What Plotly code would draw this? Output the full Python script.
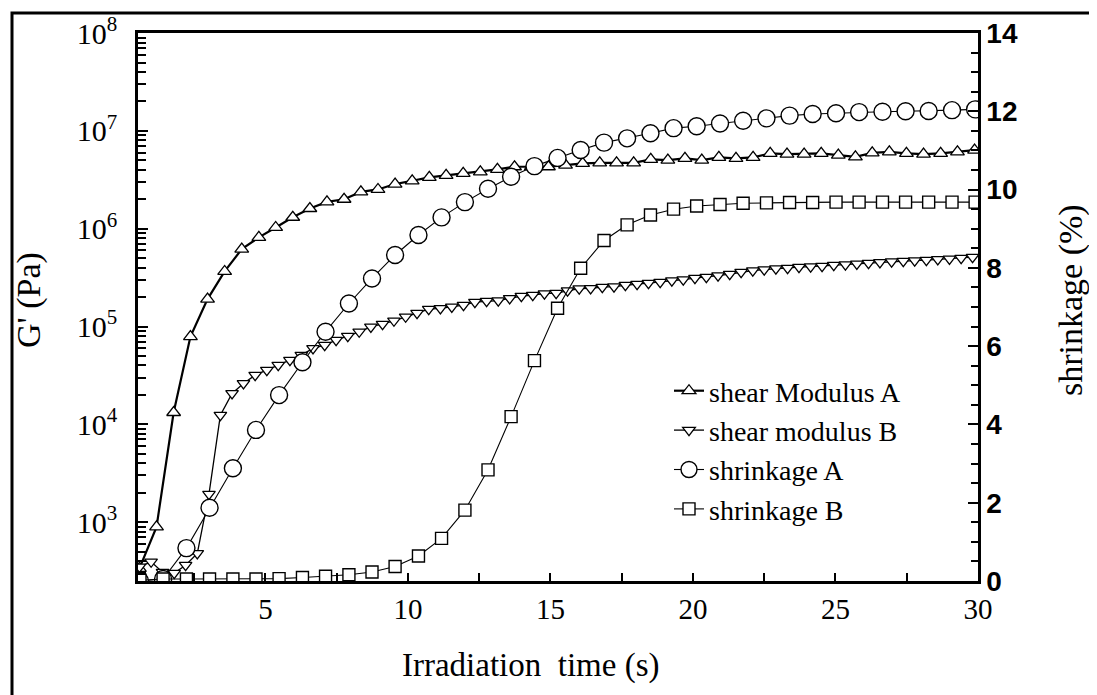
import plotly.graph_objects as go

# ---------------- data ----------------
time_shear_A = [0.58, 1.18, 1.78, 2.37, 2.97, 3.57, 4.17, 4.77, 5.36, 5.96,
                6.56, 7.16, 7.76, 8.35, 8.95, 9.55, 10.15, 10.75, 11.34, 11.94,
                12.54, 13.14, 13.74, 14.33, 14.93, 15.53, 16.13, 16.73, 17.32, 17.92,
                18.52, 19.12, 19.72, 20.31, 20.91, 21.51, 22.11, 22.71, 23.30, 23.90,
                24.50, 25.10, 25.70, 26.29, 26.89, 27.49, 28.09, 28.69, 29.28, 29.88]
G_shear_A = [337, 895, 13200, 78900, 190500, 365600, 618000, 815000, 1.03e6, 1.31e6,
             1.61e6, 1.88e6, 2.0e6, 2.38e6, 2.52e6, 2.86e6, 3.09e6, 3.35e6, 3.51e6, 3.68e6,
             3.82e6, 4.04e6, 4.30e6, 4.32e6, 4.30e6, 4.47e6, 4.66e6, 4.72e6, 4.72e6, 4.72e6,
             5.12e6, 5.02e6, 5.24e6, 5.02e6, 5.36e6, 5.24e6, 5.36e6, 5.89e6, 5.79e6, 5.79e6,
             5.89e6, 5.66e6, 5.43e6, 5.97e6, 6.11e6, 5.89e6, 5.79e6, 5.89e6, 6.11e6, 6.37e6]

time_shear_B = [0.58, 0.99, 1.39, 1.80, 2.20, 2.61, 3.02, 3.42, 3.83, 4.23,
                4.64, 5.05, 5.45, 5.86, 6.26, 6.67, 7.08, 7.48, 7.89, 8.29,
                8.70, 9.11, 9.51, 9.92, 10.32, 10.73, 11.14, 11.54, 11.95, 12.35,
                12.76, 13.17, 13.57, 13.98, 14.38, 14.79, 15.20, 15.60, 16.01, 16.41,
                16.82, 17.23, 17.63, 18.04, 18.44, 18.85, 19.26, 19.66, 20.07, 20.47,
                20.88, 21.29, 21.69, 22.10, 22.50, 22.91, 23.32, 23.72, 24.13, 24.53,
                24.94, 25.35, 25.75, 26.16, 26.56, 26.97, 27.38, 27.78, 28.19, 28.59,
                29.00, 29.41, 29.81]
G_shear_B = [349, 393, 308, 301, 363, 479, 1930, 12400, 20700, 26200,
             31800, 35800, 40300, 45300, 51000, 59700, 64500, 72600, 79800, 88300,
             99300, 105900, 114400, 125700, 137100, 150600, 153000, 158900, 165500, 177500,
             181800, 184000, 193800, 204500, 209500, 216900, 219800, 232900, 243900, 245200,
             252900, 255900, 265100, 271500, 277900, 284400, 294600, 301700, 312700, 320000,
             331500, 343500, 359800, 373100, 381800, 391100, 395600, 405000, 409600, 414600,
             424600, 429400, 436800, 444800, 453400, 461000, 466800, 472300, 477600, 485400,
             492300, 500000, 512000]

time_shrink = [0.60, 1.41, 2.23, 3.04, 3.86, 4.67, 5.48, 6.30, 7.11, 7.93,
               8.74, 9.55, 10.37, 11.18, 12.00, 12.81, 13.62, 14.44, 15.25, 16.06,
               16.88, 17.69, 18.51, 19.32, 20.13, 20.95, 21.76, 22.58, 23.39, 24.20,
               25.02, 25.83, 26.65, 27.46, 28.27, 29.09, 29.90]
shrink_A = [0.0, 0.05, 0.84, 1.87, 2.88, 3.86, 4.75, 5.59, 6.37, 7.09,
            7.73, 8.33, 8.84, 9.29, 9.68, 10.02, 10.33, 10.60, 10.81, 11.01,
            11.20, 11.31, 11.44, 11.57, 11.62, 11.69, 11.76, 11.82, 11.89, 11.93,
            11.95, 11.98, 11.99, 12.00, 12.01, 12.03, 12.05]
shrink_B = [0.02, 0.05, 0.05, 0.05, 0.05, 0.05, 0.06, 0.09, 0.12, 0.16,
            0.23, 0.37, 0.64, 1.09, 1.81, 2.84, 4.20, 5.63, 6.97, 7.99,
            8.70, 9.10, 9.35, 9.50, 9.58, 9.62, 9.65, 9.66, 9.67, 9.67,
            9.68, 9.68, 9.68, 9.68, 9.68, 9.68, 9.68]

series_names = ["shear Modulus A", "shear modulus B", "shrinkage A", "shrinkage B"]
x_tick_vals = [5, 10, 15, 20, 25, 30]
y_tick_vals = [1e3, 1e4, 1e5, 1e6, 1e7, 1e8]
y_tick_text = ["10<sup>3</sup>", "10<sup>4</sup>", "10<sup>5</sup>",
               "10<sup>6</sup>", "10<sup>7</sup>", "10<sup>8</sup>"]
y2_tick_vals = [0, 2, 4, 6, 8, 10, 12, 14]

SERIF = "Liberation Serif"
SANS = "Liberation Sans"

fig = go.Figure()

fig.add_trace(go.Scatter(
    x=time_shear_A, y=G_shear_A, name=series_names[0], mode="lines+markers",
    line=dict(color="black", width=2.2),
    marker=dict(symbol="triangle-up", size=12, color="white",
                line=dict(color="black", width=1.3))))
fig.add_trace(go.Scatter(
    x=time_shear_B, y=G_shear_B, name=series_names[1], mode="lines+markers",
    line=dict(color="black", width=1.3),
    marker=dict(symbol="triangle-down", size=11, color="white",
                line=dict(color="black", width=1.3))))
fig.add_trace(go.Scatter(
    x=time_shrink, y=shrink_A, name=series_names[2], mode="lines+markers", yaxis="y2",
    line=dict(color="black", width=1.1),
    marker=dict(symbol="circle", size=17, color="white",
                line=dict(color="black", width=1.4))))
fig.add_trace(go.Scatter(
    x=time_shrink, y=shrink_B, name=series_names[3], mode="lines+markers", yaxis="y2",
    line=dict(color="black", width=1.1),
    marker=dict(symbol="square", size=12, color="white",
                line=dict(color="black", width=1.4))))

# The page body has an 8px margin, so the figure is drawn 8px smaller and
# positions below are given in page pixels.
OFF = 8
W, H = 1097 - OFF, 695 - OFF
PL, PR, PT, PB = 138, 978, 33, 581          # plot box in page pixels
L, T = PL - OFF, PT - OFF
R, B = W - (PR - OFF), H - (PB - OFF)
pw, ph = PR - PL, PB - PT

def px_x(px):
    return (px - PL) / pw

def px_y(py):
    return (PB - py) / ph

fig.update_layout(
    width=W, height=H,
    margin=dict(l=L, r=R, t=T, b=B, pad=0, autoexpand=False),
    paper_bgcolor="white", plot_bgcolor="white",
    font=dict(family=SERIF, color="black", size=28),
    showlegend=True,
    legend=dict(x=px_x(669), y=px_y(366), xanchor="left", yanchor="top",
                bgcolor="rgba(0,0,0,0)", borderwidth=0,
                font=dict(family=SERIF, size=28, color="black"),
                tracegroupgap=0),
    xaxis=dict(range=[0.53, 30.001], tickvals=x_tick_vals, ticks="inside", ticklen=8,
               tickwidth=2, tickcolor="black", automargin=False,
               ticklabeloverflow="allow",
               minor=dict(ticks="inside", dtick=2.5, tick0=0, ticklen=8, tickwidth=2,
                          tickcolor="black", showgrid=False),
               showline=True, linewidth=2.5, linecolor="black", mirror=True,
               showgrid=False, zeroline=False,
               tickfont=dict(family=SERIF, size=29, color="black")),
    yaxis=dict(type="log", range=[2.398, 8.001], tickvals=y_tick_vals,
               ticktext=y_tick_text,
               ticks="inside", ticklen=10, tickwidth=2,
               tickcolor="black", automargin=False, ticklabeloverflow="allow",
               minor=dict(ticks="inside", ticklen=8, tickwidth=2, tickcolor="black",
                          dtick="D1", showgrid=False),
               showline=True, linewidth=2.5, linecolor="black", mirror=False,
               showgrid=False, zeroline=False, ticklabelstandoff=12,
               tickfont=dict(family=SERIF, size=30, color="black")),
    yaxis2=dict(overlaying="y", side="right", range=[0, 14.001], tickvals=y2_tick_vals,
                ticks="inside", ticklen=10, tickwidth=2, tickcolor="black",
                automargin=False, ticklabeloverflow="allow",
                minor=dict(ticks="inside", dtick=0.5, tick0=0, ticklen=7, tickwidth=2,
                           tickcolor="black", showgrid=False),
                showline=True, linewidth=2.5, linecolor="black",
                showgrid=False, zeroline=False, ticklabelstandoff=0,
                tickfont=dict(family=SANS, size=28, color="black", weight="bold")),
    annotations=[
        dict(text="Irradiation&nbsp; time (s)", xref="paper", yref="paper",
             x=px_x(531), y=px_y(665), xanchor="center", yanchor="middle",
             showarrow=False, font=dict(family=SERIF, size=33, color="black")),
        dict(text="G' (Pa)", xref="paper", yref="paper",
             x=px_x(29), y=px_y(300), xanchor="center", yanchor="middle",
             textangle=-90, showarrow=False,
             font=dict(family=SERIF, size=34, color="black")),
        dict(text="shrinkage (%)", xref="paper", yref="paper",
             x=px_x(1071), y=px_y(300), xanchor="center", yanchor="middle",
             textangle=-90, showarrow=False,
             font=dict(family=SERIF, size=34, color="black")),
    ],
    shapes=[
        dict(type="rect", xref="paper", yref="paper",
             x0=px_x(12), x1=px_x(1120), y0=px_y(720), y1=px_y(13),
             line=dict(color="black", width=3), fillcolor="rgba(0,0,0,0)",
             layer="above"),
    ],
)

fig.write_html("out.html")
